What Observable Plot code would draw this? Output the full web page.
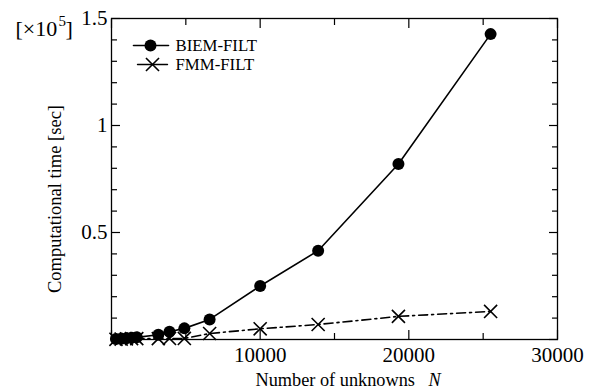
<!DOCTYPE html>
<html>
<head>
<meta charset="utf-8">
<script src="https://cdn.jsdelivr.net/npm/d3@7"></script>
<script src="https://cdn.jsdelivr.net/npm/@observablehq/plot@0.6"></script>
<style>
  html, body { margin: 0; padding: 0; background: #fff; }
  #chart { width: 601px; height: 392px; }
</style>
</head>
<body>
<div id="chart"></div>
<script>
// Number of unknowns N
const unknowns = [300, 650, 1000, 1350, 1700, 3150, 3900, 4900, 6600, 10000, 13900, 19300, 25500];
// Computational time [x10^5 sec]
const biemFilt = [0.002, 0.004, 0.006, 0.008, 0.01, 0.022, 0.036, 0.052, 0.094, 0.25, 0.415, 0.82, 1.427];
const fmmFilt  = [0.001, 0.002, 0.003, 0.004, 0.004, 0.004, 0.005, 0.005, 0.028, 0.05, 0.07, 0.108, 0.131];

const seriesNames = ["BIEM-FILT", "FMM-FILT"];
const xMajorTicks = [0, 10000, 20000, 30000];
const xMinorTicks = [5000, 15000, 25000];
const yMajorTicks = [0, 0.5, 1, 1.5];
const yMinorTicks = [0.1, 0.2, 0.3, 0.4, 0.6, 0.7, 0.8, 0.9, 1.1, 1.2, 1.3, 1.4];

const biemData = unknowns.map((n, i) => ({n, t: biemFilt[i]}));
const fmmData = unknowns.map((n, i) => ({n, t: fmmFilt[i]}));

const font = "Liberation Serif, Times New Roman, serif";
const lineShape = {draw(context, l) { context.moveTo(0, 0); context.lineTo(0, -l); }};
const txt = {fill: "black", lineAnchor: "middle"};

const chart = Plot.plot({
  width: 601,
  height: 392,
  marginLeft: 111,
  marginRight: 44,
  marginTop: 18,
  marginBottom: 53,
  style: {fontFamily: font, fontSize: "21px", color: "black", background: "white"},
  x: {domain: [0, 30000]},
  y: {domain: [0, 1.5]},
  marks: [
    // axes: inward ticks on all sides
    Plot.axisX({ticks: xMajorTicks, tickSize: -9, tickPadding: 17, fontSize: 21,
      tickFormat: d => d === 0 ? "" : String(d), label: null, strokeWidth: 1.2}),
    Plot.axisX({ticks: xMinorTicks, tickSize: -6, text: null, label: null, strokeWidth: 1.2}),
    Plot.axisX({anchor: "top", ticks: xMajorTicks, tickSize: -9, text: null, label: null, strokeWidth: 1.2}),
    Plot.axisX({anchor: "top", ticks: xMinorTicks, tickSize: -6, text: null, label: null, strokeWidth: 1.2}),
    Plot.axisY({ticks: yMajorTicks, tickSize: -9, tickPadding: 13, fontSize: 21,
      tickFormat: d => d === 0 ? "" : String(d), label: null, strokeWidth: 1.2}),
    Plot.axisY({ticks: yMinorTicks, tickSize: -6, text: null, label: null, strokeWidth: 1.2}),
    Plot.axisY({anchor: "right", ticks: yMajorTicks, tickSize: -9, text: null, label: null, strokeWidth: 1.2}),
    Plot.axisY({anchor: "right", ticks: yMinorTicks, tickSize: -6, text: null, label: null, strokeWidth: 1.2}),
    Plot.frame({stroke: "black", strokeWidth: 1.3}),

    // data
    Plot.line(fmmData, {x: "n", y: "t", stroke: "black", strokeWidth: 1.6, strokeDasharray: "9,4,2,4"}),
    Plot.dot(fmmData, {x: "n", y: "t", symbol: "times", r: 6, stroke: "black", strokeWidth: 1.6}),
    Plot.line(biemData, {x: "n", y: "t", stroke: "black", strokeWidth: 1.6}),
    Plot.dot(biemData, {x: "n", y: "t", r: 6, fill: "black", stroke: "none"}),

    // legend
    Plot.vector([0], {frameAnchor: "top-left", dx: 22, dy: 27, length: 35, rotate: 90, anchor: "start",
      shape: lineShape, stroke: "black", strokeWidth: 1.6}),
    Plot.dot([0], {frameAnchor: "top-left", dx: 39, dy: 27, r: 6, fill: "black", stroke: "none"}),
    Plot.vector([0], {frameAnchor: "top-left", dx: 26, dy: 46, length: 30, rotate: 90, anchor: "start",
      shape: lineShape, stroke: "black", strokeWidth: 1.4}),
    Plot.dot([0], {frameAnchor: "top-left", dx: 41, dy: 46, r: 6, symbol: "times", stroke: "black", strokeWidth: 1.6}),
    Plot.text([seriesNames[0]], {...txt, frameAnchor: "top-left", dx: 64, dy: 27, textAnchor: "start", fontSize: 16.8}),
    Plot.text([seriesNames[1]], {...txt, frameAnchor: "top-left", dx: 64, dy: 46, textAnchor: "start", fontSize: 16.8}),

    // multiplier [x10^5]
    Plot.text(["[×10"], {...txt, frameAnchor: "top-left", dx: -96, dy: 10, textAnchor: "start", fontSize: 22}),
    Plot.text(["5"], {...txt, frameAnchor: "top-left", dx: -53, dy: 3, textAnchor: "start", fontSize: 15}),
    Plot.text(["]"], {...txt, frameAnchor: "top-left", dx: -46, dy: 10, textAnchor: "start", fontSize: 22}),

    // axis labels
    Plot.text(["Computational time [sec]"], {...txt, frameAnchor: "left", textAnchor: "middle", rotate: -90, dx: -56, dy: 20, fontSize: 18.5}),
    Plot.text(["Number of unknowns"], {...txt, frameAnchor: "bottom-left", dx: 144, dy: 41, textAnchor: "start", fontSize: 18.3}),
    Plot.text(["N"], {...txt, frameAnchor: "bottom-left", dx: 317, dy: 41, textAnchor: "start", fontSize: 18.3, fontStyle: "italic"})
  ]
});
document.getElementById("chart").appendChild(chart);
</script>
</body>
</html>
